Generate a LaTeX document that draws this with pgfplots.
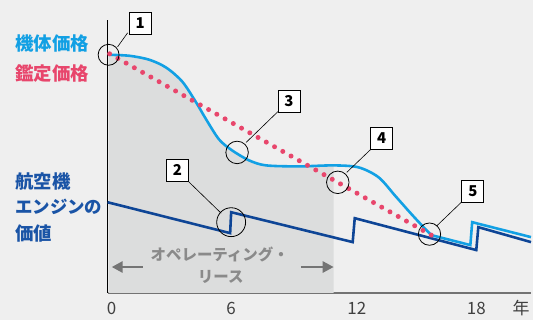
\documentclass[border=0pt]{standalone}
\usepackage{pgfplots}
\pgfplotsset{compat=1.18}
\usepackage{fontspec}
\setmainfont{Noto Sans CJK JP}
\usetikzlibrary{arrows.meta,backgrounds}
\definecolor{bgc}{HTML}{EFEFEF}
\definecolor{shade}{HTML}{DCDDDD}
\definecolor{frame}{HTML}{12A0E4}
\definecolor{appr}{HTML}{E8466C}
\definecolor{eng}{HTML}{0E4596}
\definecolor{engtxt}{HTML}{1A54A6}
\definecolor{txtgray}{HTML}{8A8A8A}
\definecolor{arrgray}{HTML}{747474}

\begin{document}
\begin{tikzpicture}[show background rectangle, inner frame sep=0pt,
  background rectangle/.style={fill=bgc, draw=none}]
\begin{axis}[
  scale only axis, width=425pt, height=274pt,
  xmin=-0.05, xmax=20.68, ymin=0, ymax=274,
  axis x line=bottom, axis y line=left,
  x axis line style={-, draw=black!55, line width=1.8pt},
  y axis line style={-, draw=black, line width=0.8pt},
  ytick=\empty,
  xtick={0.15,6,12.15,18,20.2},
  xticklabels={0,6,12,18,年},
  major tick length=0pt,
  xticklabel style={anchor=base, yshift=-22pt, text=black!75,
    font=\fontsize{17}{17}\selectfont},
  clip=false,
]
% airframe shading (operating lease period)
\addplot[fill=shade, draw=none, smooth] coordinates {
  (0,239) (1.02,238) (2.0,234) (2.83,226) (3.61,212) (4.29,191)
  (4.78,174) (5.41,154) (6.05,143) (6.88,133) (7.71,128) (9.32,127)
  (11.02,128)
} \closedcycle;

% engine value
\addplot[eng, line width=2.6pt, line join=miter] coordinates {
  (-0.05,91) (5.95,60) (6.0,81) (11.95,51) (12.05,75)
  (18.0,43) (18.1,66) (20.68,51)
};

% airframe value
\addplot[frame, line width=2.6pt, smooth] coordinates {
  (0,239) (1.02,238) (2.0,234) (2.83,226) (3.61,212) (4.29,191)
  (4.78,174) (5.41,154) (6.05,143) (6.88,133) (7.71,128) (9.32,127)
  (11.02,128) (12.24,126) (13.22,116) (14.05,97) (14.83,79)
  (15.51,64) (15.8,58)
};
\addplot[frame, line width=2.6pt, line join=miter] coordinates {
  (15.8,58) (17.71,48) (17.8,71) (20.68,56)
};

% appraisal value
\addplot[appr, line width=5pt, line cap=round, dash pattern=on 0pt off 9.5pt]
  coordinates {(0.05,240) (15.8,58)};

% callout circles
\draw[black, line width=0.8pt] (axis cs:0,239) circle[radius=10.5pt];
\draw[black, line width=0.8pt] (axis cs:6.0,71) circle[radius=14.5pt];
\draw[black, line width=0.8pt] (axis cs:6.29,141) circle[radius=11.3pt];
\draw[black, line width=0.8pt] (axis cs:11.22,111) circle[radius=11.3pt];
\draw[black, line width=0.8pt] (axis cs:15.71,59) circle[radius=11.2pt];

% leaders
\draw[black, line width=0.6pt] (axis cs:0.93,261) -- (axis cs:0.44,247);
\draw[black, line width=0.6pt] (axis cs:3.9,112) -- (axis cs:5.51,80);
\draw[black, line width=0.6pt] (axis cs:8.29,182) -- (axis cs:6.73,151);
\draw[black, line width=0.6pt] (axis cs:12.83,144) -- (axis cs:11.66,121);
\draw[black, line width=0.6pt] (axis cs:17.27,91) -- (axis cs:16.05,67);

% numbered boxes
\tikzset{numbox/.style={draw=black, fill=white, line width=0.8pt,
  minimum size=22pt, inner sep=0pt, font=\bfseries\fontsize{15}{15}\selectfont}}
\node[numbox] at (axis cs:1.54,270.5) {1};
\node[numbox] at (axis cs:3.37,123) {2};
\node[numbox] at (axis cs:8.83,192.5) {3};
\node[numbox] at (axis cs:13.37,155) {4};
\node[numbox] at (axis cs:17.83,102) {5};

% series labels
\tikzset{lab/.style={anchor=west, inner sep=0pt, font=\bfseries\fontsize{18.5}{18.5}\selectfont}}
\node[lab, text=frame] at (axis cs:-4.585,250) {機体価格};
\node[lab, text=appr] at (axis cs:-4.585,220) {鑑定価格};
\node[lab, text=engtxt] at (axis cs:-4.585,112) {航空機};
\node[lab, text=engtxt, font=\bfseries\fontsize{17.5}{17.5}\selectfont] at (axis cs:-4.585,86) {エンジンの};
\node[lab, text=engtxt] at (axis cs:-4.585,60) {価値};

% operating lease span
\node[inner sep=0pt, text=txtgray, font=\bfseries\fontsize{15.5}{15.5}\selectfont]
  at (axis cs:5.44,39) {オペレーティング・};
\node[inner sep=0pt, text=txtgray, font=\bfseries\fontsize{15.5}{15.5}\selectfont]
  at (axis cs:5.49,16) {リース};
\draw[arrgray, line width=2.6pt, -{Triangle[length=11pt,width=11pt]}]
  (axis cs:1.66,26) -- (axis cs:0.15,26);
\draw[arrgray, line width=2.6pt, -{Triangle[length=11pt,width=11pt]}]
  (axis cs:9.41,26) -- (axis cs:11.02,26);

% page frame
\path (axis cs:-5.317,-27) rectangle (axis cs:20.68,294);
\end{axis}
\end{tikzpicture}
\end{document}
